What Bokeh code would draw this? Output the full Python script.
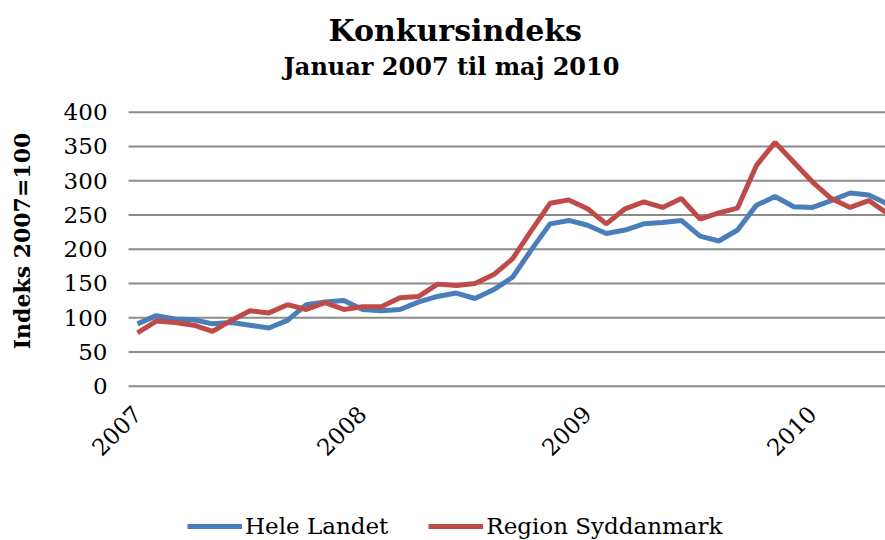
import math
from bokeh.plotting import figure
from bokeh.models import Range1d, FixedTicker, Title, Legend, LegendItem
from bokeh.embed import file_html
from bokeh.resources import INLINE

months = list(range(41))  # Jan 2007 .. May 2010
year_ticks = [0, 12, 24, 36]
year_labels = ["2007", "2008", "2009", "2010"]
y_ticks = [0, 50, 100, 150, 200, 250, 300, 350, 400]

hele_landet = [91, 103, 98, 97, 91, 93, 89, 85, 96, 119, 123, 125, 112, 110, 112, 123,
               131, 136, 128, 141, 159, 199, 237, 242, 235, 223, 228, 237, 239, 242,
               219, 212, 228, 264, 277, 262, 261, 271, 282, 279, 266]
syddanmark = [78, 95, 93, 89, 80, 96, 110, 107, 119, 112, 122, 112, 116, 116, 129, 131,
              149, 147, 150, 163, 186, 227, 267, 272, 259, 237, 259, 269, 261, 274,
              244, 253, 260, 322, 356, 327, 298, 274, 261, 271, 252]

FONT = "DejaVu Serif"

# axis extents (in month units): the value axis sits at X_AXIS, plot ends at X_END
X_VIEW_START = -7.307
X_AXIS = -0.48
X_END = 39.89

p = figure(width=885, height=540, output_backend="svg", toolbar_location=None,
           x_range=Range1d(X_VIEW_START, X_END), y_range=Range1d(-225.3, 424.4),
           min_border_left=0, min_border_right=0, min_border_top=95,
           min_border_bottom=0)
p.outline_line_color = None
p.background_fill_color = "white"
p.border_fill_color = "white"

sub = Title(text="Januar 2007 til maj 2010", align="left", text_font=FONT,
            text_font_size="24px", text_font_style="bold", text_color="black",
            standoff=30, offset=283)
try:
    main = Title(text="Konkursindeks", align="left", text_font=FONT,
                 text_font_size="30px", text_font_style="bold", text_color="black",
                 standoff=-26, offset=328)
except Exception:
    main = Title(text="Konkursindeks", align="left", text_font=FONT,
                 text_font_size="30px", text_font_style="bold", text_color="black",
                 standoff=0, offset=328)
p.add_layout(sub, "above")
p.add_layout(main, "above")

# horizontal gridlines at the value ticks
p.segment(x0=[X_AXIS] * len(y_ticks), y0=y_ticks, x1=[X_END] * len(y_ticks), y1=y_ticks,
          line_color="#8C8C8C", line_width=2)

r1 = p.line(months, hele_landet, line_color="#4A7EBB", line_width=5)
r2 = p.line(months, syddanmark, line_color="#BE4B48", line_width=5)

p.xgrid.grid_line_color = None
p.ygrid.grid_line_color = None

p.yaxis.fixed_location = X_AXIS
p.yaxis.bounds = (0, 424)
p.yaxis.ticker = FixedTicker(ticks=y_ticks)
p.yaxis.axis_line_color = None
p.yaxis.major_tick_line_color = None
p.yaxis.minor_tick_line_color = None
p.yaxis.major_label_text_font = FONT
p.yaxis.major_label_text_font_size = "23px"
p.yaxis.major_label_text_color = "black"
p.yaxis.major_label_standoff = 15
p.yaxis.axis_label = "Indeks 2007=100"
p.yaxis.axis_label_text_font = FONT
p.yaxis.axis_label_text_font_size = "22px"
p.yaxis.axis_label_text_font_style = "bold"
p.yaxis.axis_label_text_color = "black"
p.yaxis.axis_label_standoff = 26

# year axis drawn along the zero line
p.xaxis.fixed_location = 0
p.xaxis.ticker = FixedTicker(ticks=year_ticks)
p.xaxis.major_label_overrides = {t: l for t, l in zip(year_ticks, year_labels)}
p.xaxis.major_label_orientation = math.pi / 4
p.xaxis.axis_line_color = None
p.xaxis.major_tick_line_color = None
p.xaxis.minor_tick_line_color = None
p.xaxis.major_label_text_font = FONT
p.xaxis.major_label_text_font_size = "23px"
p.xaxis.major_label_text_color = "black"
p.xaxis.major_label_standoff = 18

legend = Legend(items=[LegendItem(label="Hele Landet", renderers=[r1]),
                       LegendItem(label="Region Syddanmark", renderers=[r2])],
                orientation="horizontal", location=(187, 1),
                label_text_font=FONT, label_text_font_size="23px",
                label_text_color="black", glyph_width=55, glyph_height=20,
                spacing=40, label_standoff=3, border_line_color=None,
                background_fill_alpha=0, margin=0, padding=4)
p.add_layout(legend)

open("out.html", "w").write(file_html(p, INLINE))
